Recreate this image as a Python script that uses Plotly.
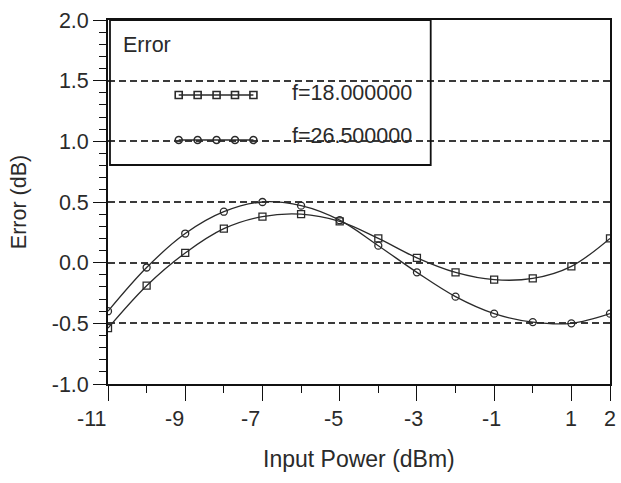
import plotly.graph_objects as go

# ---- data ----
input_power = [-11, -10, -9, -8, -7, -6, -5, -4, -3, -2, -1, 0, 1, 2]
err_f18 = [-0.54, -0.19, 0.08, 0.28, 0.38, 0.40, 0.34, 0.20, 0.04, -0.08, -0.14, -0.13, -0.03, 0.20]
err_f26 = [-0.40, -0.04, 0.24, 0.42, 0.50, 0.47, 0.35, 0.14, -0.08, -0.28, -0.42, -0.49, -0.50, -0.42]
series_names = ["f=18.000000", "f=26.500000"]
legend_title = "Error"
x_tickvals = [-11, -9, -7, -5, -3, -1, 1, 2]
x_minorvals = [-10, -8, -6, -4, -2, 0]
y_tickvals = [-1.0, -0.5, 0.0, 0.5, 1.0, 1.5, 2.0]

# styling: horizontal nudges of the x tick labels (px), as in the reference
x_label_shift = [-17, -11, -12, -6, -3, -3, 0, 0]

FONT = "Liberation Sans, Arial, sans-serif"
FS = 21.5
INK = "#2a2a2a"
W, H = 621, 483
ML, MR, MT, MB = 108, 9, 20, 99

fig = go.Figure()

line_style = dict(color=INK, width=1.3, shape="spline")
fig.add_trace(go.Scatter(
    x=input_power, y=err_f18, mode="lines+markers", name=series_names[0],
    line=line_style,
    marker=dict(symbol="square-open", size=7, color=INK, line=dict(width=1.3)),
    showlegend=False))
fig.add_trace(go.Scatter(
    x=input_power, y=err_f26, mode="lines+markers", name=series_names[1],
    line=line_style,
    marker=dict(symbol="circle-open", size=7, color=INK, line=dict(width=1.3)),
    showlegend=False))

# ---- custom legend (pixel-space overlay axis) ----
leg_x = [179, 198, 217, 235.5, 254]
for sym, ypix, name, ty in [("square-open", 95, series_names[0], 93),
                           ("circle-open", 140, series_names[1], 136)]:
    fig.add_trace(go.Scatter(
        x=leg_x, y=[ypix] * len(leg_x), mode="lines+markers",
        xaxis="x2", yaxis="y2", showlegend=False, hoverinfo="skip",
        line=dict(color=INK, width=1.3),
        marker=dict(symbol=sym, size=7, color=INK, line=dict(width=1.6))))
    fig.add_annotation(x=291, y=ty, xref="x2", yref="y2", text=name,
                       showarrow=False, xanchor="left", yanchor="middle",
                       font=dict(family=FONT, size=FS, color=INK))

fig.add_annotation(x=121, y=45, xref="x2", yref="y2", text=legend_title,
                   showarrow=False, xanchor="left", yanchor="middle",
                   font=dict(family=FONT, size=FS, color=INK))
fig.add_shape(type="rect", xref="x2", yref="y2", x0=110, x1=432, y0=20, y1=165,
              line=dict(color="#111", width=1.8), fillcolor="rgba(0,0,0,0)")

# x tick labels (hyphen minus, nudged like the reference)
for v, dx in zip(x_tickvals, x_label_shift):
    fig.add_annotation(x=v, y=0, xref="x", yref="paper", text=f"{v:g}",
                       showarrow=False, xanchor="center", yanchor="top",
                       xshift=dx, yshift=-21,
                       font=dict(family=FONT, size=FS, color=INK))

axis_common = dict(showline=True, linecolor="#111", linewidth=1.8, mirror=True,
                   tickfont=dict(family=FONT, size=FS, color=INK),
                   tickcolor="#111", tickwidth=1.3, zeroline=False)

fig.update_layout(
    width=W, height=H,
    margin=dict(l=ML, r=MR, t=MT, b=MB),
    paper_bgcolor="white", plot_bgcolor="white",
    font=dict(family=FONT, size=FS, color=INK),
    xaxis=dict(range=[-11, 2], tickmode="array", tickvals=x_tickvals,
               showticklabels=False,
               ticks="outside", ticklen=15, showgrid=False,
               minor=dict(tickmode="array", tickvals=x_minorvals, ticks="outside",
                          ticklen=7, tickcolor="#111", showgrid=False),
               **axis_common),
    yaxis=dict(range=[-1, 2], tickmode="array", tickvals=y_tickvals,
               ticktext=[f"{v:.1f}" for v in y_tickvals],
               ticks="outside", ticklen=13, showgrid=True,
               gridcolor="#3a3a3a", gridwidth=1.5, griddash="7px,4px",
               minor=dict(dtick=0.1, tick0=0, ticks="outside", ticklen=7, tickcolor="#111",
                          showgrid=False),
               title=dict(text="Error (dB)", font=dict(family=FONT, size=FS, color=INK),
                          standoff=19),
               **axis_common),
    xaxis2=dict(overlaying="x", range=[ML, W - MR], visible=False, fixedrange=True),
    yaxis2=dict(overlaying="y", range=[H - MB, MT], visible=False, fixedrange=True),
)

fig.add_annotation(x=0.5, y=0, xref="paper", yref="paper", text="Input Power (dBm)",
                   showarrow=False, xanchor="center", yanchor="top", yshift=-60,
                   xshift=0, font=dict(family=FONT, size=23, color=INK))

fig.write_html("out.html")
